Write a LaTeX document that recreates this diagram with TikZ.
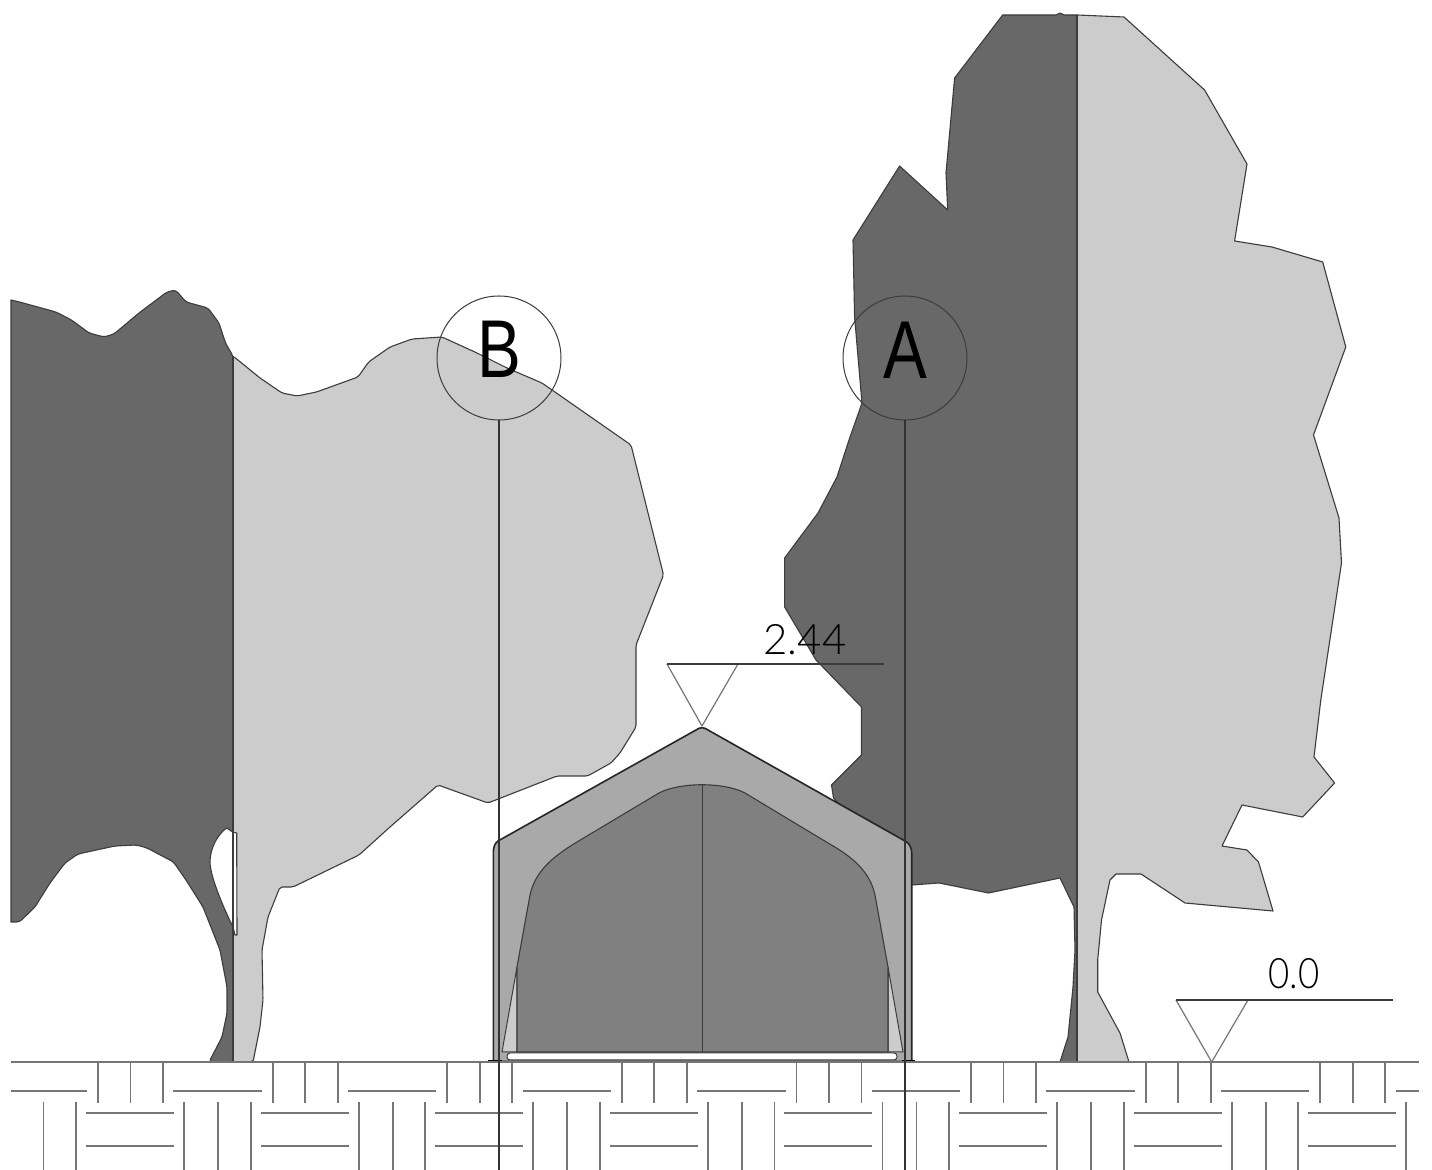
\documentclass[tikz,border=0pt]{standalone}
\usepackage{fontspec}
\setmainfont{Liberation Sans}
\newfontfamily\lightfont{Lato Light}
\definecolor{treedark}{HTML}{686868}
\definecolor{treelight}{HTML}{CCCCCC}
\definecolor{tentouter}{HTML}{A9A9A9}
\definecolor{tentinner}{HTML}{808080}
\definecolor{linegrey}{HTML}{767676}
\definecolor{edgegrey}{HTML}{3C3C3C}
\tikzset{
  outline/.style={draw=edgegrey,line width=0.55pt,line join=round},
  brick/.style={draw=linegrey,line width=0.9pt},
  thinline/.style={draw=edgegrey,line width=0.5pt},
  leader/.style={draw=black!80,line width=0.55pt},
  refcircle/.style={circle,draw=edgegrey,line width=0.5pt,minimum size=62pt,inner sep=0pt},
  bigletter/.style={inner sep=0pt,font=\fontsize{41}{41}\selectfont,text=black},
  levellabel/.style={inner sep=0pt,font=\lightfont\fontsize{21}{21}\selectfont,text=black},
}
\begin{document}
\begin{tikzpicture}[x=0.5pt,y=-0.5pt]
\useasboundingbox (0,0) rectangle (1432,1170);
\fill[white] (0,0) rectangle (1432,1170);
% left tree, dark half
\path[fill=treedark,outline]
 (11,300) [rounded corners=1.5pt] -- (19.5,302) -- (56,312) -- (71.5,320) -- (89,333) -- (104,337) -- (114,334) -- (139,313) -- (167,292) -- (175.6,290) -- (186,302) -- (208,308) -- (219,323) -- (225.5,343) -- (233,356)
 -- (233,1062) -- (209,1062) -- (222,1037) -- (227,1013) -- (227,987) -- (220,950) -- (203,907) -- (186,880) -- (173.5,862) -- (147,848) -- (136.6,845) -- (115,846) -- (78,854) -- (65,863) -- (50,883) -- (35,907) -- (19.5,922) [sharp corners] -- (11,922) -- cycle;
% left tree, light half
\path[fill=treelight,outline,rounded corners=1pt]
 (233,356) -- (260,378) -- (282,393) -- (297,396) -- (316.5,392) -- (358,377) -- (368.6,362) -- (390,347) -- (412,339) -- (442,337) -- (477,353) -- (507,368) -- (542,383) -- (631,445) -- (663.5,575) -- (636,645) -- (636,727) -- (620,753) -- (611,763) -- (587.6,776) -- (557,776) -- (488,803) -- (438,785) -- (390,827) -- (359,855) -- (293,887) -- (280,887) -- (268,917) -- (262,950) -- (263,1000) -- (260,1027) -- (253,1062) -- (233,1062) -- cycle;
% gap between the trunks
\path[fill=white,outline]
 (226.7,828) .. controls (218,834) and (210,848) .. (210,862) .. controls (210,875) and (222,905) .. (233,927) -- (235,935) -- (237,935) -- (236.7,833) -- (232.7,832) -- cycle;
\draw[draw=edgegrey,line width=0.7pt] (233,356) -- (233,1062);
% right tree, dark half
\path[fill=treedark,outline]
 (1002.7,15) -- (1056,15) -- (1060,13) -- (1064,15) -- (1077,15) -- (1077,1062) -- (1060,1062) -- (1068,1037) -- (1073,987) -- (1075,950) -- (1074,907) -- (1060,878) -- (988.5,893) -- (939,883) -- (912,885) -- (833.5,798) -- (831.5,785) -- (861.5,755) -- (861.5,707) -- (816,660) -- (784.6,607) -- (784.6,558) -- (818,513) -- (837,477) -- (849,440) -- (862,403) -- (854.6,317) -- (853,240) -- (899.6,166) -- (947.7,210) -- (946,173) -- (954.6,78) -- cycle;
% right tree, light half
\path[fill=treelight,outline]
 (1077,15) -- (1124,17) -- (1204.6,90) -- (1247,164) -- (1234.6,241) -- (1272,247) -- (1322.7,262) -- (1345.8,347) -- (1313.5,435) -- (1339,518) -- (1341.5,563) -- (1320.8,700) -- (1314,757) -- (1334.6,783) -- (1302.7,817) -- (1242,805) -- (1222,846) -- (1247,850) -- (1258.5,862) -- (1273,911) -- (1185,903) -- (1141,874) -- (1116,874) -- (1110,880) -- (1101.5,920) -- (1097.7,960) -- (1097.7,992) -- (1120,1033) -- (1129,1062) -- (1077,1062) -- cycle;
\draw[draw=edgegrey,line width=0.7pt] (1077,15) -- (1077,1062);
% tent
\path[fill=tentouter,draw=black!85,line width=0.8pt,line join=round]
 (493.3,1061.5) -- (493.3,853) .. controls (493.3,847) and (495,843) .. (498,841) -- (696,730) .. controls (700,727) and (704,727) .. (708,730) -- (905,841) .. controls (909,843) and (911.7,847) .. (911.7,853) -- (911.7,1061.5) -- cycle;
\path[fill=treelight,draw=edgegrey,line width=0.5pt] (502,1052) -- (517,967) -- (517,1052) -- cycle;
\path[fill=treelight,draw=edgegrey,line width=0.5pt] (903,1052) -- (888,967) -- (888,1052) -- cycle;
\path[fill=tentinner,outline]
 (517,1052) -- (517,967) -- (530,895) .. controls (535,872) and (552,857) .. (577,842) -- (659,793) .. controls (680,782) and (724,782) .. (745,793) -- (828,843) .. controls (853,857) and (870,872) .. (875,895) -- (888,967) -- (888,1052) -- cycle;
\draw[thinline] (702,785) -- (702,1052);
\path[fill=white,draw=edgegrey,line width=0.5pt,rounded corners=1.5pt] (507,1053) rectangle (897,1060);
\draw[draw=black,line width=1pt] (488,1061) -- (502,1061) (902,1061) -- (915,1061);
% ground and paving
\draw[brick] (11,1062) -- (1419,1062);
\draw[brick] (11,1091) -- (86.7,1091);
\foreach \k in {0,...,6} {
  \draw[brick] ({173.3+174.6*\k},1091) -- ({261.8+174.6*\k},1091);
}
\draw[brick] (1396,1091) -- (1419,1091);
\foreach \k in {0,...,7} {
  \draw[brick] ({98+174.6*\k},1062) -- ({98+174.6*\k},1103);
  \draw[brick] ({130.5+174.6*\k},1062) -- ({130.5+174.6*\k},1103);
  \draw[brick] ({163+174.6*\k},1062) -- ({163+174.6*\k},1103);
  \draw[brick] ({86+174.6*\k},1113) -- ({174+174.6*\k},1113);
  \draw[brick] ({86+174.6*\k},1146) -- ({174+174.6*\k},1146);
  \draw[brick] ({184+174.6*\k},1102) -- ({184+174.6*\k},1170);
  \draw[brick] ({43.4+174.6*\k},1102) -- ({43.4+174.6*\k},1170);
  \draw[brick] ({76+174.6*\k},1102) -- ({76+174.6*\k},1170);
}
% reference circles and their leaders
\node[refcircle] (circB) at (499,358) {};
\node[refcircle] (circA) at (905,358) {};
\node[bigletter] (letterB) at (499,349) {\scalebox{0.8}[1]{B}};
\node[bigletter] (letterA) at (905,350) {\scalebox{0.8}[1]{A}};
\coordinate (endB) at (499,1170);
\coordinate (endA) at (905,1170);
\draw[leader] (circB.south) -- (endB);
\draw[leader] (circA.south) -- (endA);
% level 2.44
\coordinate (tipH) at (702,726);
\coordinate (leftH) at (667,664);
\coordinate (rightH) at (738,664);
\coordinate (endH) at (884,664);
\draw[draw=linegrey,line width=0.6pt,line join=round] (leftH) -- (tipH) -- (rightH);
\draw[draw=edgegrey,line width=0.6pt] (leftH) -- (endH);
\node[levellabel] (labelH) at (805,640) {2.44};
% level 0.0
\coordinate (tipG) at (1211.7,1062);
\coordinate (leftG) at (1176,1000);
\coordinate (rightG) at (1248,1000);
\coordinate (endG) at (1393,1000);
\draw[draw=linegrey,line width=0.6pt,line join=round] (leftG) -- (tipG) -- (rightG);
\draw[draw=edgegrey,line width=0.6pt] (leftG) -- (endG);
\node[levellabel] (labelG) at (1294,974) {\scalebox{0.87}[1]{0.0}};
\end{tikzpicture}
\end{document}
